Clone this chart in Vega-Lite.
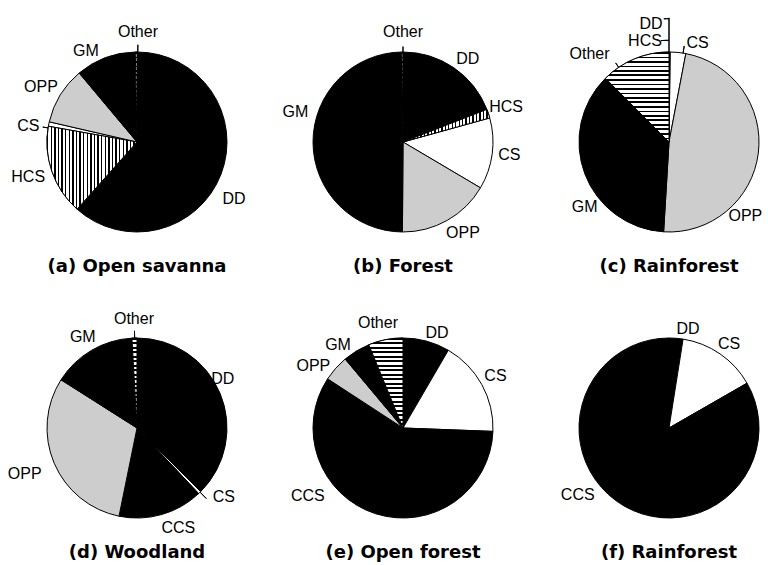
{
  "$schema": "https://vega.github.io/schema/vega-lite/v6.json",
  "background": "white",
  "bounds": "flush",
  "padding": {"left": 7, "top": 15, "right": 0, "bottom": 0},
  "data": {"values": [
    {"panel": "(a) Open savanna", "kind": "slice", "cat": "DD", "value": 61.6},
    {"panel": "(a) Open savanna", "kind": "slice", "cat": "HCS", "value": 16.2},
    {"panel": "(a) Open savanna", "kind": "slice", "cat": "CS", "value": 0.8},
    {"panel": "(a) Open savanna", "kind": "slice", "cat": "OPP", "value": 10.3},
    {"panel": "(a) Open savanna", "kind": "slice", "cat": "GM", "value": 10.8},
    {"panel": "(a) Open savanna", "kind": "slice", "cat": "Other", "value": 0.3},
    {"panel": "(b) Forest", "kind": "slice", "cat": "DD", "value": 19.1},
    {"panel": "(b) Forest", "kind": "slice", "cat": "HCS", "value": 1.6},
    {"panel": "(b) Forest", "kind": "slice", "cat": "CS", "value": 12.8},
    {"panel": "(b) Forest", "kind": "slice", "cat": "OPP", "value": 16.6},
    {"panel": "(b) Forest", "kind": "slice", "cat": "GM", "value": 49.7},
    {"panel": "(b) Forest", "kind": "slice", "cat": "Other", "value": 0.2},
    {"panel": "(c) Rainforest", "kind": "slice", "cat": "DD", "value": 0.1},
    {"panel": "(c) Rainforest", "kind": "slice", "cat": "HCS", "value": 0.1},
    {"panel": "(c) Rainforest", "kind": "slice", "cat": "CS", "value": 2.8},
    {"panel": "(c) Rainforest", "kind": "slice", "cat": "OPP", "value": 48.0},
    {"panel": "(c) Rainforest", "kind": "slice", "cat": "GM", "value": 36.6},
    {"panel": "(c) Rainforest", "kind": "slice", "cat": "Other", "value": 12.5},
    {"panel": "(d) Woodland", "kind": "slice", "cat": "DD", "value": 37.5},
    {"panel": "(d) Woodland", "kind": "slice", "cat": "CS", "value": 0.5},
    {"panel": "(d) Woodland", "kind": "slice", "cat": "CCS", "value": 15.2},
    {"panel": "(d) Woodland", "kind": "slice", "cat": "OPP", "value": 30.8},
    {"panel": "(d) Woodland", "kind": "slice", "cat": "GM", "value": 15.1},
    {"panel": "(d) Woodland", "kind": "slice", "cat": "Other", "value": 0.9},
    {"panel": "(e) Open forest", "kind": "slice", "cat": "DD", "value": 8.4},
    {"panel": "(e) Open forest", "kind": "slice", "cat": "CS", "value": 17.2},
    {"panel": "(e) Open forest", "kind": "slice", "cat": "CCS", "value": 58.6},
    {"panel": "(e) Open forest", "kind": "slice", "cat": "OPP", "value": 4.7},
    {"panel": "(e) Open forest", "kind": "slice", "cat": "GM", "value": 4.9},
    {"panel": "(e) Open forest", "kind": "slice", "cat": "Other", "value": 6.2},
    {"panel": "(f) Rainforest", "kind": "slice", "cat": "DD", "value": 2.5},
    {"panel": "(f) Rainforest", "kind": "slice", "cat": "CS", "value": 14.2},
    {"panel": "(f) Rainforest", "kind": "slice", "cat": "CCS", "value": 83.3},

    {"panel": "(a) Open savanna", "kind": "label", "label": "Other", "deg": 0.5, "dist": 1.22},
    {"panel": "(a) Open savanna", "kind": "label", "label": "GM", "deg": 330.7, "dist": 1.16},
    {"panel": "(a) Open savanna", "kind": "label", "label": "OPP", "deg": 299.8, "dist": 1.23},
    {"panel": "(a) Open savanna", "kind": "label", "label": "CS", "deg": 278.4, "dist": 1.22},
    {"panel": "(a) Open savanna", "kind": "label", "label": "HCS", "deg": 252.2, "dist": 1.27},
    {"panel": "(a) Open savanna", "kind": "label", "label": "DD", "deg": 120.4, "dist": 1.25},
    {"panel": "(b) Forest", "kind": "label", "label": "Other", "deg": 0, "dist": 1.22},
    {"panel": "(b) Forest", "kind": "label", "label": "DD", "deg": 38, "dist": 1.17},
    {"panel": "(b) Forest", "kind": "label", "label": "HCS", "deg": 71.2, "dist": 1.21},
    {"panel": "(b) Forest", "kind": "label", "label": "CS", "deg": 97, "dist": 1.19},
    {"panel": "(b) Forest", "kind": "label", "label": "OPP", "deg": 146.6, "dist": 1.21},
    {"panel": "(b) Forest", "kind": "label", "label": "GM", "deg": 285.5, "dist": 1.24},
    {"panel": "(c) Rainforest", "kind": "label", "label": "DD", "deg": 351.4, "dist": 1.33},
    {"panel": "(c) Rainforest", "kind": "label", "label": "HCS", "deg": 346.6, "dist": 1.15},
    {"panel": "(c) Rainforest", "kind": "label", "label": "CS", "deg": 16, "dist": 1.15},
    {"panel": "(c) Rainforest", "kind": "label", "label": "OPP", "deg": 134, "dist": 1.18},
    {"panel": "(c) Rainforest", "kind": "label", "label": "GM", "deg": 232.6, "dist": 1.18},
    {"panel": "(c) Rainforest", "kind": "label", "label": "Other", "deg": 318, "dist": 1.32},
    {"panel": "(d) Woodland", "kind": "label", "label": "Other", "deg": 358.4, "dist": 1.21},
    {"panel": "(d) Woodland", "kind": "label", "label": "GM", "deg": 329.3, "dist": 1.18},
    {"panel": "(d) Woodland", "kind": "label", "label": "DD", "deg": 60, "dist": 1.1},
    {"panel": "(d) Woodland", "kind": "label", "label": "CS", "deg": 128.3, "dist": 1.23},
    {"panel": "(d) Woodland", "kind": "label", "label": "CCS", "deg": 157.5, "dist": 1.2},
    {"panel": "(d) Woodland", "kind": "label", "label": "OPP", "deg": 247.5, "dist": 1.35},
    {"panel": "(e) Open forest", "kind": "label", "label": "Other", "deg": 346.6, "dist": 1.2},
    {"panel": "(e) Open forest", "kind": "label", "label": "DD", "deg": 19.7, "dist": 1.12},
    {"panel": "(e) Open forest", "kind": "label", "label": "CS", "deg": 60.5, "dist": 1.18},
    {"panel": "(e) Open forest", "kind": "label", "label": "CCS", "deg": 234.4, "dist": 1.3},
    {"panel": "(e) Open forest", "kind": "label", "label": "OPP", "deg": 304.6, "dist": 1.21},
    {"panel": "(e) Open forest", "kind": "label", "label": "GM", "deg": 321.9, "dist": 1.17},
    {"panel": "(f) Rainforest", "kind": "label", "label": "DD", "deg": 10.9, "dist": 1.12},
    {"panel": "(f) Rainforest", "kind": "label", "label": "CS", "deg": 35.5, "dist": 1.15},
    {"panel": "(f) Rainforest", "kind": "label", "label": "CCS", "deg": 233.6, "dist": 1.26},

    {"panel": "(a) Open savanna", "kind": "tick", "deg": 0.5, "deg2": 0.5, "d1": 1.0, "d2": 1.08},
    {"panel": "(a) Open savanna", "kind": "tick", "deg": 279, "deg2": 279, "d1": 1.0, "d2": 1.06},
    {"panel": "(b) Forest", "kind": "tick", "deg": 0, "deg2": 0, "d1": 1.0, "d2": 1.06},
    {"panel": "(c) Rainforest", "kind": "tick", "deg": 0, "deg2": 0, "d1": 1.0, "d2": 1.38},
    {"panel": "(c) Rainforest", "kind": "tick", "deg": 357.6, "deg2": 360, "d1": 1.37, "d2": 1.37},
    {"panel": "(c) Rainforest", "kind": "tick", "deg": 355.5, "deg2": 360, "d1": 1.13, "d2": 1.13},
    {"panel": "(c) Rainforest", "kind": "tick", "deg": 9, "deg2": 9, "d1": 1.0, "d2": 1.08},
    {"panel": "(c) Rainforest", "kind": "tick", "deg": 326, "deg2": 326, "d1": 1.0, "d2": 1.06},
    {"panel": "(d) Woodland", "kind": "tick", "deg": 358.5, "deg2": 358.5, "d1": 1.0, "d2": 1.08},
    {"panel": "(d) Woodland", "kind": "tick", "deg": 135.5, "deg2": 135.5, "d1": 1.0, "d2": 1.1}
  ]},
  "transform": [
    {"joinaggregate": [{"op": "sum", "field": "value", "as": "total"}], "groupby": ["panel", "kind"]},
    {"calculate": "indexof(['DD','HCS','CS','CCS','OPP','GM','Other'], datum.cat)", "as": "ord"},
    {"window": [{"op": "sum", "field": "value", "as": "cum"}], "sort": [{"field": "ord"}], "groupby": ["panel", "kind"], "frame": [null, 0]},
    {"calculate": "datum.kind == 'slice' ? (datum.cum - datum.value) / datum.total * 360 : datum.deg", "as": "t1"},
    {"calculate": "datum.kind == 'slice' ? datum.cum / datum.total * 360 : datum.deg2", "as": "t2"}
  ],
  "facet": {
    "field": "panel",
    "type": "nominal",
    "title": null,
    "sort": ["(a) Open savanna", "(b) Forest", "(c) Rainforest", "(d) Woodland", "(e) Open forest", "(f) Rainforest"],
    "header": {
      "labelOrient": "bottom",
      "labelFont": "DejaVu Sans",
      "labelFontWeight": "bold",
      "labelFontSize": 18,
      "labelColor": "#000",
      "labelPadding": 8
    }
  },
  "columns": 3,
  "spacing": {"row": 70, "column": 70},
  "spec": {
    "width": 196,
    "height": 216,
    "layer": [
      {
        "transform": [{"filter": "datum.kind == 'slice'"}],
        "mark": {"type": "arc", "outerRadius": 90, "stroke": "#000", "strokeWidth": 1},
        "encoding": {
          "theta": {"field": "t1", "type": "quantitative", "stack": null, "scale": {"domain": [0, 360], "range": [0, 6.283185307179586]}},
          "theta2": {"field": "t2"},
          "color": {"field": "cat", "type": "nominal", "legend": null,
            "scale": {"domain": ["DD", "HCS", "CS", "CCS", "OPP", "GM", "Other"],
                      "range": ["#000000", "#ffffff", "#ffffff", "#000000", "#cdcdcd", "#000000", "#ffffff"]}}
        }
      },
      {
        "transform": [{"filter": "datum.kind == 'slice' && datum.cat == 'HCS'"}],
        "mark": {"type": "arc", "outerRadius": 90, "stroke": "#000", "strokeWidth": 1,
          "fill": {"gradient": "linear", "x1": 0, "y1": 0, "x2": 1, "y2": 0, "stops": [
            {"offset": 0, "color": "#000"}, {"offset": 0.016, "color": "#000"}, {"offset": 0.016, "color": "#fff"}, {"offset": 0.04, "color": "#fff"},
            {"offset": 0.04, "color": "#000"}, {"offset": 0.056, "color": "#000"}, {"offset": 0.056, "color": "#fff"}, {"offset": 0.08, "color": "#fff"},
            {"offset": 0.08, "color": "#000"}, {"offset": 0.096, "color": "#000"}, {"offset": 0.096, "color": "#fff"}, {"offset": 0.12, "color": "#fff"},
            {"offset": 0.12, "color": "#000"}, {"offset": 0.136, "color": "#000"}, {"offset": 0.136, "color": "#fff"}, {"offset": 0.16, "color": "#fff"},
            {"offset": 0.16, "color": "#000"}, {"offset": 0.176, "color": "#000"}, {"offset": 0.176, "color": "#fff"}, {"offset": 0.2, "color": "#fff"},
            {"offset": 0.2, "color": "#000"}, {"offset": 0.216, "color": "#000"}, {"offset": 0.216, "color": "#fff"}, {"offset": 0.24, "color": "#fff"},
            {"offset": 0.24, "color": "#000"}, {"offset": 0.256, "color": "#000"}, {"offset": 0.256, "color": "#fff"}, {"offset": 0.28, "color": "#fff"},
            {"offset": 0.28, "color": "#000"}, {"offset": 0.296, "color": "#000"}, {"offset": 0.296, "color": "#fff"}, {"offset": 0.32, "color": "#fff"},
            {"offset": 0.32, "color": "#000"}, {"offset": 0.336, "color": "#000"}, {"offset": 0.336, "color": "#fff"}, {"offset": 0.36, "color": "#fff"},
            {"offset": 0.36, "color": "#000"}, {"offset": 0.376, "color": "#000"}, {"offset": 0.376, "color": "#fff"}, {"offset": 0.4, "color": "#fff"},
            {"offset": 0.4, "color": "#000"}, {"offset": 0.416, "color": "#000"}, {"offset": 0.416, "color": "#fff"}, {"offset": 0.44, "color": "#fff"},
            {"offset": 0.44, "color": "#000"}, {"offset": 0.456, "color": "#000"}, {"offset": 0.456, "color": "#fff"}, {"offset": 0.48, "color": "#fff"},
            {"offset": 0.48, "color": "#000"}, {"offset": 0.496, "color": "#000"}, {"offset": 0.496, "color": "#fff"}, {"offset": 0.52, "color": "#fff"},
            {"offset": 0.52, "color": "#000"}, {"offset": 0.536, "color": "#000"}, {"offset": 0.536, "color": "#fff"}, {"offset": 0.56, "color": "#fff"},
            {"offset": 0.56, "color": "#000"}, {"offset": 0.576, "color": "#000"}, {"offset": 0.576, "color": "#fff"}, {"offset": 0.6, "color": "#fff"},
            {"offset": 0.6, "color": "#000"}, {"offset": 0.616, "color": "#000"}, {"offset": 0.616, "color": "#fff"}, {"offset": 0.64, "color": "#fff"},
            {"offset": 0.64, "color": "#000"}, {"offset": 0.656, "color": "#000"}, {"offset": 0.656, "color": "#fff"}, {"offset": 0.68, "color": "#fff"},
            {"offset": 0.68, "color": "#000"}, {"offset": 0.696, "color": "#000"}, {"offset": 0.696, "color": "#fff"}, {"offset": 0.72, "color": "#fff"},
            {"offset": 0.72, "color": "#000"}, {"offset": 0.736, "color": "#000"}, {"offset": 0.736, "color": "#fff"}, {"offset": 0.76, "color": "#fff"},
            {"offset": 0.76, "color": "#000"}, {"offset": 0.776, "color": "#000"}, {"offset": 0.776, "color": "#fff"}, {"offset": 0.8, "color": "#fff"},
            {"offset": 0.8, "color": "#000"}, {"offset": 0.816, "color": "#000"}, {"offset": 0.816, "color": "#fff"}, {"offset": 0.84, "color": "#fff"},
            {"offset": 0.84, "color": "#000"}, {"offset": 0.856, "color": "#000"}, {"offset": 0.856, "color": "#fff"}, {"offset": 0.88, "color": "#fff"},
            {"offset": 0.88, "color": "#000"}, {"offset": 0.896, "color": "#000"}, {"offset": 0.896, "color": "#fff"}, {"offset": 0.92, "color": "#fff"},
            {"offset": 0.92, "color": "#000"}, {"offset": 0.936, "color": "#000"}, {"offset": 0.936, "color": "#fff"}, {"offset": 0.96, "color": "#fff"},
            {"offset": 0.96, "color": "#000"}, {"offset": 0.976, "color": "#000"}, {"offset": 0.976, "color": "#fff"}, {"offset": 1, "color": "#fff"}
          ]}},
        "encoding": {
          "theta": {"field": "t1", "type": "quantitative", "stack": null, "scale": {"domain": [0, 360], "range": [0, 6.283185307179586]}},
          "theta2": {"field": "t2"}
        }
      },
      {
        "transform": [{"filter": "datum.kind == 'slice' && datum.cat == 'Other'"}],
        "mark": {"type": "arc", "outerRadius": 90, "stroke": "#000", "strokeWidth": 1,
          "fill": {"gradient": "linear", "x1": 0, "y1": 0, "x2": 0, "y2": 1, "stops": [
            {"offset": 0, "color": "#000"}, {"offset": 0.02, "color": "#000"}, {"offset": 0.02, "color": "#fff"}, {"offset": 0.05, "color": "#fff"},
            {"offset": 0.05, "color": "#000"}, {"offset": 0.07, "color": "#000"}, {"offset": 0.07, "color": "#fff"}, {"offset": 0.1, "color": "#fff"},
            {"offset": 0.1, "color": "#000"}, {"offset": 0.12, "color": "#000"}, {"offset": 0.12, "color": "#fff"}, {"offset": 0.15, "color": "#fff"},
            {"offset": 0.15, "color": "#000"}, {"offset": 0.17, "color": "#000"}, {"offset": 0.17, "color": "#fff"}, {"offset": 0.2, "color": "#fff"},
            {"offset": 0.2, "color": "#000"}, {"offset": 0.22, "color": "#000"}, {"offset": 0.22, "color": "#fff"}, {"offset": 0.25, "color": "#fff"},
            {"offset": 0.25, "color": "#000"}, {"offset": 0.27, "color": "#000"}, {"offset": 0.27, "color": "#fff"}, {"offset": 0.3, "color": "#fff"},
            {"offset": 0.3, "color": "#000"}, {"offset": 0.32, "color": "#000"}, {"offset": 0.32, "color": "#fff"}, {"offset": 0.35, "color": "#fff"},
            {"offset": 0.35, "color": "#000"}, {"offset": 0.37, "color": "#000"}, {"offset": 0.37, "color": "#fff"}, {"offset": 0.4, "color": "#fff"},
            {"offset": 0.4, "color": "#000"}, {"offset": 0.42, "color": "#000"}, {"offset": 0.42, "color": "#fff"}, {"offset": 0.45, "color": "#fff"},
            {"offset": 0.45, "color": "#000"}, {"offset": 0.47, "color": "#000"}, {"offset": 0.47, "color": "#fff"}, {"offset": 0.5, "color": "#fff"},
            {"offset": 0.5, "color": "#000"}, {"offset": 0.52, "color": "#000"}, {"offset": 0.52, "color": "#fff"}, {"offset": 0.55, "color": "#fff"},
            {"offset": 0.55, "color": "#000"}, {"offset": 0.57, "color": "#000"}, {"offset": 0.57, "color": "#fff"}, {"offset": 0.6, "color": "#fff"},
            {"offset": 0.6, "color": "#000"}, {"offset": 0.62, "color": "#000"}, {"offset": 0.62, "color": "#fff"}, {"offset": 0.65, "color": "#fff"},
            {"offset": 0.65, "color": "#000"}, {"offset": 0.67, "color": "#000"}, {"offset": 0.67, "color": "#fff"}, {"offset": 0.7, "color": "#fff"},
            {"offset": 0.7, "color": "#000"}, {"offset": 0.72, "color": "#000"}, {"offset": 0.72, "color": "#fff"}, {"offset": 0.75, "color": "#fff"},
            {"offset": 0.75, "color": "#000"}, {"offset": 0.77, "color": "#000"}, {"offset": 0.77, "color": "#fff"}, {"offset": 0.8, "color": "#fff"},
            {"offset": 0.8, "color": "#000"}, {"offset": 0.82, "color": "#000"}, {"offset": 0.82, "color": "#fff"}, {"offset": 0.85, "color": "#fff"},
            {"offset": 0.85, "color": "#000"}, {"offset": 0.87, "color": "#000"}, {"offset": 0.87, "color": "#fff"}, {"offset": 0.9, "color": "#fff"},
            {"offset": 0.9, "color": "#000"}, {"offset": 0.92, "color": "#000"}, {"offset": 0.92, "color": "#fff"}, {"offset": 0.95, "color": "#fff"},
            {"offset": 0.95, "color": "#000"}, {"offset": 0.97, "color": "#000"}, {"offset": 0.97, "color": "#fff"}, {"offset": 1, "color": "#fff"}
          ]}},
        "encoding": {
          "theta": {"field": "t1", "type": "quantitative", "stack": null, "scale": {"domain": [0, 360], "range": [0, 6.283185307179586]}},
          "theta2": {"field": "t2"}
        }
      },
      {
        "transform": [{"filter": "datum.kind == 'tick'"}],
        "mark": {"type": "arc", "stroke": "#000", "strokeWidth": 1, "fillOpacity": 0},
        "encoding": {
          "theta": {"field": "t1", "type": "quantitative", "stack": null, "scale": {"domain": [0, 360], "range": [0, 6.283185307179586]}},
          "theta2": {"field": "t2"},
          "radius": {"field": "d2", "type": "quantitative", "scale": {"type": "linear", "domain": [0, 1], "range": [0, 90]}},
          "radius2": {"field": "d1"}
        }
      },
      {
        "transform": [{"filter": "datum.kind == 'label'"}],
        "mark": {"type": "text", "font": "Liberation Sans", "fontSize": 16, "fill": "#000", "align": "center", "baseline": "middle"},
        "encoding": {
          "theta": {"field": "t1", "type": "quantitative", "stack": null, "scale": {"domain": [0, 360], "range": [0, 6.283185307179586]}},
          "radius": {"field": "dist", "type": "quantitative", "scale": {"type": "linear", "domain": [0, 1], "range": [0, 90]}},
          "text": {"field": "label", "type": "nominal"}
        }
      }
    ]
  },
  "config": {"view": {"stroke": null}}
}
